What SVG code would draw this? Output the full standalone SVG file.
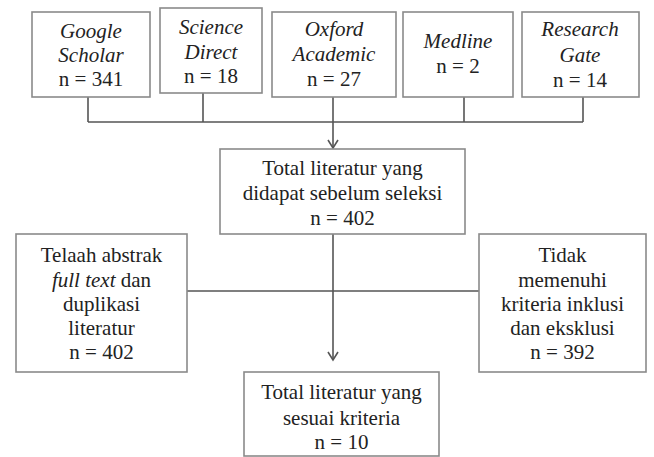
<svg xmlns="http://www.w3.org/2000/svg" width="654" height="457" viewBox="0 0 654 457">
<style>
.box{fill:#fff;stroke:#8a8a8a;stroke-width:1.6}
.t{font-family:'Liberation Serif','Times New Roman',serif;font-size:21px;fill:#222;text-anchor:middle}
.i{font-style:italic}
.ln{fill:none;stroke:#555;stroke-width:1.6}
</style>
<defs>
<marker id="arr" markerWidth="12" markerHeight="12" refX="10" refY="6" orient="auto" markerUnits="userSpaceOnUse" viewBox="0 0 12 12">
<path d="M2,1 L10,6 L2,11" fill="none" stroke="#555" stroke-width="1.6"/>
</marker>
</defs>
<rect width="654" height="457" fill="#fff"/>
<g id="connectors">
<path class="ln" d="M88,97 V122 M203,93 V122 M464,97 V122 M583,97 V122 M88,122 H583"/>
<path class="ln" d="M333,97 V148" marker-end="url(#arr)"/>
<path class="ln" d="M187,291 H479"/>
<path class="ln" d="M333,234 V360" marker-end="url(#arr)"/>
</g>
<g id="google">
<rect class="box" x="32" y="12" width="118" height="85"/>
<text class="t i" x="91" y="38">Google</text>
<text class="t i" x="91" y="62">Scholar</text>
<text class="t" x="91" y="86">n = 341</text>
</g>
<g id="science">
<rect class="box" x="160" y="8" width="102" height="85"/>
<text class="t i" x="211" y="34">Science</text>
<text class="t i" x="211" y="59">Direct</text>
<text class="t" x="211" y="83">n = 18</text>
</g>
<g id="oxford">
<rect class="box" x="272" y="12" width="124" height="85"/>
<text class="t i" x="334" y="36">Oxford</text>
<text class="t i" x="334" y="61">Academic</text>
<text class="t" x="334" y="86">n = 27</text>
</g>
<g id="medline">
<rect class="box" x="403" y="12" width="110" height="85"/>
<text class="t i" x="458" y="48">Medline</text>
<text class="t" x="458" y="73">n = 2</text>
</g>
<g id="research">
<rect class="box" x="522" y="12" width="117" height="85"/>
<text class="t i" x="580" y="36">Research</text>
<text class="t i" x="580" y="62">Gate</text>
<text class="t" x="580" y="87">n = 14</text>
</g>
<g id="total">
<rect class="box" x="220" y="149" width="245" height="85"/>
<text class="t" x="342.5" y="175">Total literatur yang</text>
<text class="t" x="342.5" y="200">didapat sebelum seleksi</text>
<text class="t" x="342.5" y="225">n = 402</text>
</g>
<g id="telaah">
<rect class="box" x="16" y="234" width="171" height="138"/>
<text class="t" x="101.5" y="262">Telaah abstrak</text>
<text class="t" x="101.5" y="287"><tspan class="i">full text</tspan> dan</text>
<text class="t" x="101.5" y="311">duplikasi</text>
<text class="t" x="101.5" y="335">literatur</text>
<text class="t" x="101.5" y="359">n = 402</text>
</g>
<g id="tidak">
<rect class="box" x="479" y="234" width="167" height="138"/>
<text class="t" x="562.5" y="262">Tidak</text>
<text class="t" x="562.5" y="287">memenuhi</text>
<text class="t" x="562.5" y="311">kriteria inklusi</text>
<text class="t" x="562.5" y="335">dan eksklusi</text>
<text class="t" x="562.5" y="359">n = 392</text>
</g>
<g id="final">
<rect class="box" x="244" y="372" width="195" height="84"/>
<text class="t" x="341.5" y="399">Total literatur yang</text>
<text class="t" x="341.5" y="425">sesuai kriteria</text>
<text class="t" x="341.5" y="449">n = 10</text>
</g>
</svg>
